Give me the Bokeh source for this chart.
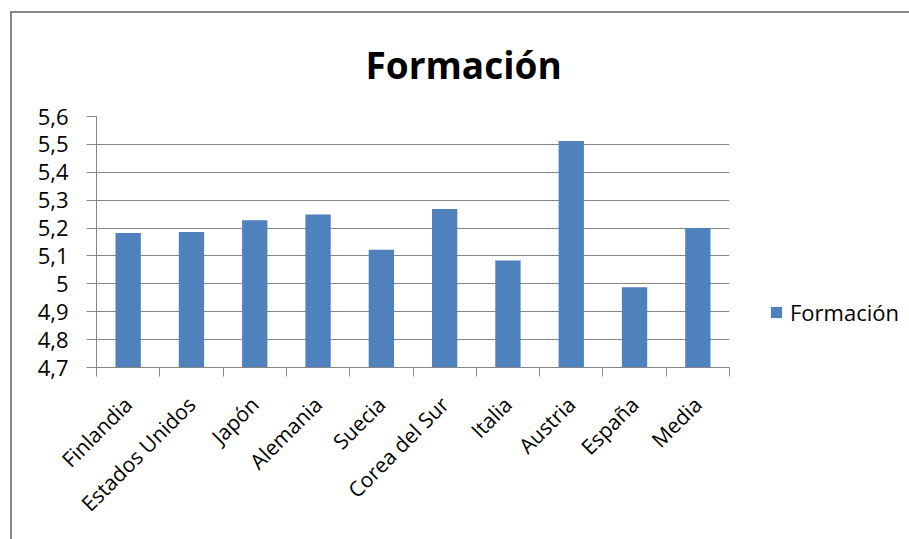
import math
from bokeh.plotting import figure
from bokeh.models import (LinearAxis, FixedTicker, Range1d, Legend, LegendItem,
                          Title, ColumnDataSource, Grid)
from bokeh.embed import file_html
from bokeh.resources import INLINE

# Índice de formación por país
categories = ["Finlandia", "Estados Unidos", "Japón", "Alemania", "Suecia",
              "Corea del Sur", "Italia", "Austria", "España", "Media"]
values = [5.182, 5.186, 5.228, 5.249, 5.122, 5.268, 5.084, 5.512, 4.988, 5.200]

y_tick_values = [4.7, 4.8, 4.9, 5.0, 5.1, 5.2, 5.3, 5.4, 5.5, 5.6]
y_tick_labels = ["4,7", "4,8", "4,9", "5", "5,1", "5,2", "5,3", "5,4", "5,5", "5,6"]

series_name = "Formación"
bar_color = "#4F81BD"
line_gray = "#868686"
font = "Open Sans"

n = len(categories)
centers = [i + 0.5 for i in range(n)]
bounds = [float(i) for i in range(n + 1)]

source = ColumnDataSource(dict(x=centers, top=values, cat=categories))

p = figure(frame_width=633, frame_height=251,
           output_backend="svg", toolbar_location=None,
           x_range=Range1d(0, n), y_range=Range1d(4.7, 5.6),
           x_axis_type=None, y_axis_type=None,
           min_border_left=84, min_border_right=180,
           min_border_top=103, min_border_bottom=172)
p.styles = {"margin-left": "10px", "margin-top": "11px",
            "border-left": f"2px solid {line_gray}",
            "border-top": f"2px solid {line_gray}"}
p.outline_line_color = None
p.background_fill_color = "white"
p.border_fill_color = "white"

bars = p.vbar(x="x", top="top", bottom=4.7, width=0.4, source=source,
              fill_color=bar_color, line_color=None)

# Líneas de división horizontales
p.add_layout(Grid(dimension=1, ticker=FixedTicker(ticks=y_tick_values),
                  grid_line_color=line_gray, grid_line_width=1.2))

# Eje Y con etiquetas de coma decimal
yaxis = LinearAxis(ticker=FixedTicker(ticks=y_tick_values),
                   major_label_overrides=dict(zip(y_tick_values, y_tick_labels)))
yaxis.axis_line_color = line_gray
yaxis.major_tick_line_color = line_gray
yaxis.major_tick_out = 10
yaxis.major_tick_in = 0
yaxis.minor_tick_line_color = None
yaxis.major_label_standoff = 18
yaxis.major_label_text_font = font
yaxis.major_label_text_font_size = "22px"
yaxis.major_label_text_color = "black"
p.add_layout(yaxis, "left")

# Eje X: nombres girados 45° y marcas entre categorías
xaxis = LinearAxis(ticker=FixedTicker(ticks=centers, minor_ticks=bounds),
                   major_label_overrides=dict(zip(centers, categories)))
xaxis.axis_line_color = line_gray
xaxis.major_tick_line_color = None
xaxis.minor_tick_line_color = line_gray
xaxis.minor_tick_out = 9
xaxis.minor_tick_in = 0
xaxis.major_tick_out = 9
xaxis.major_tick_in = 0
xaxis.major_label_orientation = math.pi / 4
xaxis.major_label_standoff = 24
xaxis.major_label_text_font = font
xaxis.major_label_text_font_size = "21px"
xaxis.major_label_text_color = "black"
p.add_layout(xaxis, "below")

p.title = Title(text=series_name, align="left", offset=269, standoff=50,
                vertical_align="top",
                text_font=font, text_font_size="37px", text_font_style="bold",
                text_color="black")

legend = Legend(items=[LegendItem(label=series_name, renderers=[bars])],
                location="bottom_left", orientation="vertical")
legend.border_line_color = None
legend.background_fill_alpha = 0
legend.padding = 0
legend.margin = 40
legend.glyph_width = 14
legend.glyph_height = 14
legend.label_height = 14
legend.label_standoff = 7
legend.label_text_font = font
legend.label_text_font_size = "22px"
legend.label_text_color = "black"
p.add_layout(legend, "right")

open("out.html", "w").write(file_html(p, INLINE))
